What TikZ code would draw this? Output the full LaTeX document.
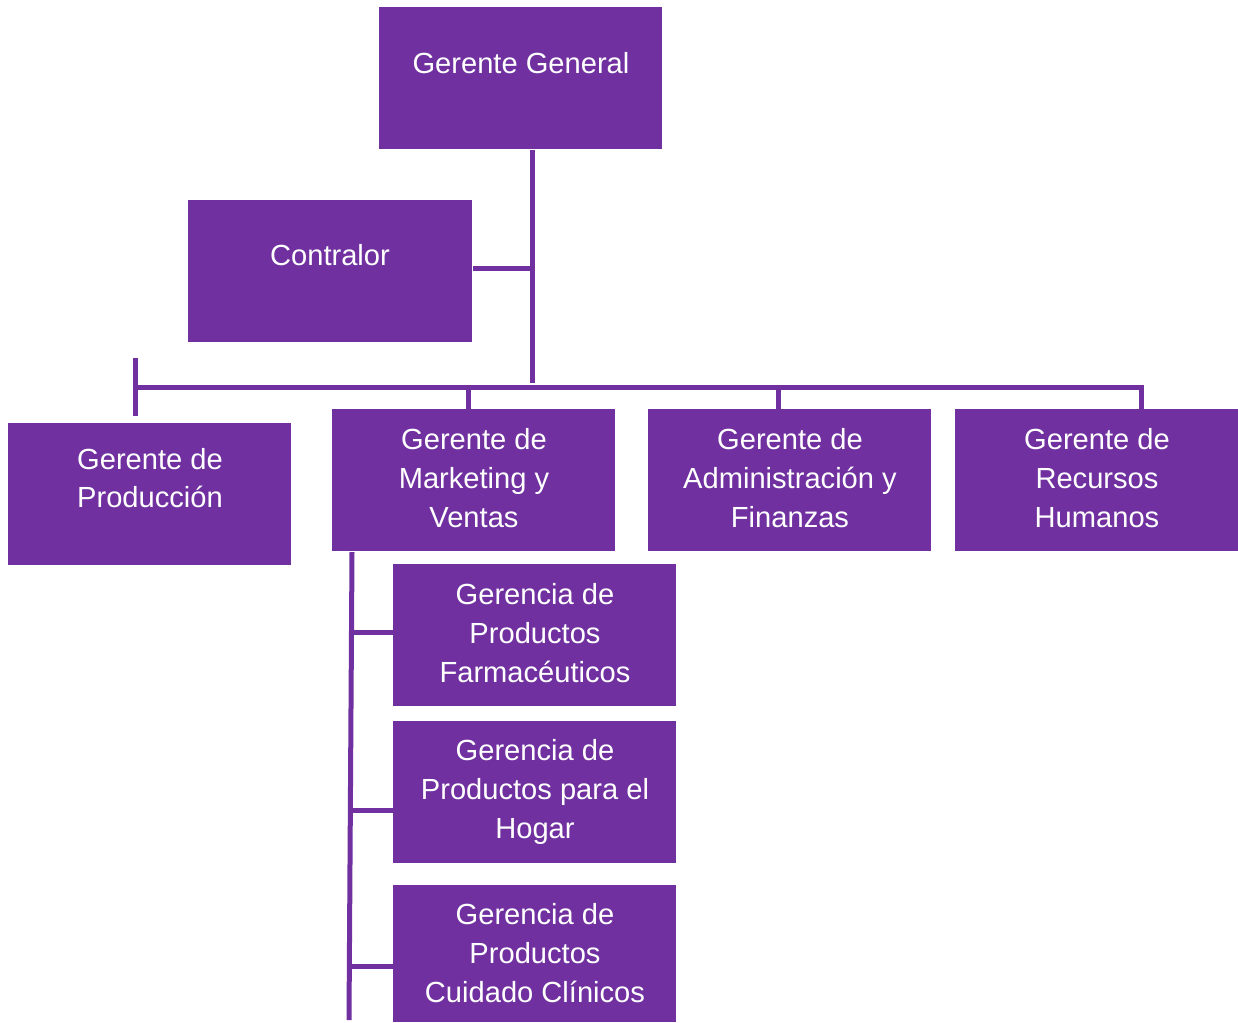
\documentclass[tikz,border=0pt]{standalone}
\usepackage{fontspec}
\setmainfont{Liberation Sans}
\definecolor{morado}{HTML}{7030A0}
\newcommand{\px}{0.025cm}

\begin{document}
\begin{tikzpicture}[x=\px, y=-\px,
    box/.style={fill=morado, rectangle, anchor=north west, minimum width=283*\px, minimum height=142*\px, inner sep=0pt},
    txt/.style={text=white, align=center, inner sep=0pt, font=\fontsize{20.7pt}{27.6pt}\selectfont},
    line/.style={draw=morado, line width=5*\px}]
    \useasboundingbox (0,0) rectangle (1238,1022);

    % Top
    \node[box] (gg) at (379,7) {};
    \node[box, minimum width=284*\px] (contralor) at (188,200) {};

    % Second row
    \node[box] (prod) at (8,423) {};
    \node[box] (mkt) at (332,409) {};
    \node[box] (adm) at (648,409) {};
    \node[box] (rrhh) at (955,409) {};

    % Under Marketing
    \node[box] (farm) at (393,564) {};
    \node[box] (hogar) at (393,721) {};
    \node[box, minimum height=137*\px] (cuid) at (393,885) {};

    % Texts
    \node[txt] (gg-t) at (521,63) {Gerente General};
    \node[txt] (contralor-t) at (330,255) {Contralor};
    \node[txt] (prod-t) at (150,478) {Gerente de\\Producción};
    \node[txt] (mkt-t) at (474,478) {Gerente de\\Marketing y\\Ventas};
    \node[txt] (adm-t) at (790,478) {Gerente de\\Administración y\\Finanzas};
    \node[txt] (rrhh-t) at (1097,478) {Gerente de\\Recursos\\Humanos};
    \node[txt] (farm-t) at (535,633) {Gerencia de\\Productos\\Farmacéuticos};
    \node[txt] (hogar-t) at (535,792) {Gerencia de\\Productos para el\\Hogar};
    \node[txt] (cuid-t) at (535,953) {Gerencia de\\Productos\\Cuidado Clínicos};

    % Connectors
    \coordinate (trunk) at (532,383);
    \coordinate (busL) at (135,387);
    \coordinate (busR) at (1141,387);
    \coordinate (tickT) at (135,358);
    \coordinate (tickB) at (135,416);
    \coordinate (subT) at (352,552);
    \coordinate (subB) at (349,1020);

    \draw[line] (gg.south -| trunk) -- (trunk);
    \draw[line] ([yshift=2.5*\px]contralor.east) -- ([yshift=2.5*\px]contralor.east -| trunk);
    \draw[line, line join=miter] (busL) -- (busR) -- (busR |- rrhh.north);
    \draw[line] (tickT) -- (tickB);
    \draw[line] ([xshift=-5*\px]mkt.north) -- ([xshift=-5*\px]mkt.north |- busL);
    \draw[line] ([xshift=-11*\px]adm.north) -- ([xshift=-11*\px]adm.north |- busL);

    \draw[line] (subT) -- (subB);
    \draw[line] ([yshift=3*\px]farm.west) -- ([yshift=3*\px]farm.west -| subT);
    \draw[line] ([yshift=-18*\px]hogar.west) -- ([yshift=-18*\px]hogar.west -| subT);
    \draw[line] ([yshift=-12.5*\px]cuid.west) -- ([yshift=-12.5*\px]cuid.west -| subT);

\end{tikzpicture}
\end{document}
